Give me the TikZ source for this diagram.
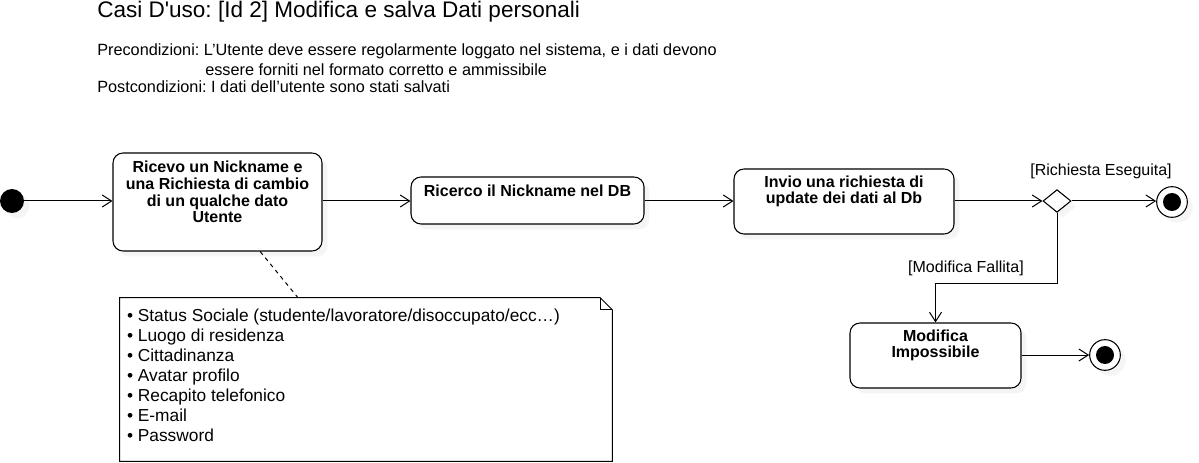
\documentclass[tikz,border=0pt]{standalone}
\usepackage{fontspec}
\setmainfont{Liberation Sans}
\frenchspacing
\usetikzlibrary{arrows.meta}
\usetikzlibrary{shapes.geometric}
\usetikzlibrary{shadows}
\usetikzlibrary{calc}

\tikzset{
  shadowed/.style={drop shadow={shadow xshift=4pt,shadow yshift=-4pt,fill=black!8}},
  act/.style={draw, rounded corners=7.5pt, line width=0.8pt, fill=white, shadowed},
  acttext/.style={font=\fontsize{12}{12.5}\selectfont\bfseries, align=center, yshift=7.5pt},
  flow/.style={line width=0.75pt, -{Straight Barb[length=7pt,width=9pt]}},
  initnode/.style={circle, fill=black, minimum size=18pt, inner sep=0, shadowed},
  finalnode/.style={circle, draw, line width=0.8pt, fill=white, minimum size=23pt, inner sep=0, shadowed,
    label={[circle, fill=black, minimum size=13.5pt, inner sep=0]center:{}}},
  decnode/.style={diamond, draw, line width=0.8pt, fill=white, minimum width=21pt, minimum height=17pt, inner sep=0, shadowed},
  guard/.style={font=\fontsize{12}{14}\selectfont},
  headtext/.style={font=\fontsize{12.2}{14}\selectfont, anchor=base west, inner sep=0}
}

\begin{document}
\begin{tikzpicture}[x=0.75pt,y=0.75pt,yscale=-1,xscale=1]
\useasboundingbox (0,0) rectangle (1199,463);

% intestazione
\node[font=\fontsize{16.9}{19}\selectfont, anchor=base west, inner sep=0] (title) at (97,18) {Casi D\textquotesingle uso: [Id 2] Modifica e salva Dati personali};
\node[headtext] (pre) at (97,56) {Precondizioni: L’Utente deve essere regolarmente loggato nel sistema, e i dati devono};
\node[headtext] (pre2) at (205,76) {essere forniti nel formato corretto e ammissibile};
\node[headtext] (post) at (97,93) {Postcondizioni: I dati dell’utente sono stati salvati};

% nodi
\node[initnode] (start) at (12,201) {};
\node[act, minimum width=156.75pt, minimum height=73.5pt,
  label={[acttext]center:{Ricevo un Nickname e\\una Richiesta di cambio\\di un qualche dato\\Utente}}] (ricevo) at (217.5,202) {};
\node[act, minimum width=174.75pt, minimum height=35.25pt,
  label={[acttext]center:{Ricerco il Nickname nel DB}}] (ricerco) at (527.5,200.5) {};
\node[act, minimum width=165pt, minimum height=48.75pt,
  label={[acttext]center:{Invio una richiesta di\\update dei dati al Db}}] (invio) at (844,201.5) {};
\node[decnode] (dec) at (1057,201) {};
\node[finalnode] (fine1) at (1172,202) {};
\node[act, minimum width=128.25pt, minimum height=48.75pt,
  label={[acttext]center:{Modifica\\Impossibile}}] (impossibile) at (935.5,355.5) {};
\node[finalnode] (fine2) at (1105,355) {};

% nota
\node[minimum width=369pt, minimum height=122.25pt, inner sep=0] (note) at (366,379.5) {};
\draw[line width=0.75pt] (note.north west) -- ($(note.north east)+(-12,0)$) -- ($(note.north east)+(0,12)$) -- (note.south east) -- (note.south west) -- cycle;
\draw[line width=0.75pt] ($(note.north east)+(-12,0)$) -- ($(note.north east)+(-12,12)$) -- ($(note.north east)+(0,12)$);
\node[anchor=north west, align=left, inner sep=0, font=\fontsize{13}{15}\selectfont] (notetext) at ($(note.north west)+(7,11)$)
  {• Status Sociale (studente/lavoratore/disoccupato/ecc…)\\• Luogo di residenza\\• Cittadinanza\\• Avatar profilo\\• Recapito telefonico\\• E-mail\\• Password};
\draw[dashed, line width=0.75pt] ($(ricevo.south west)!0.703!(ricevo.south east)$) -- ($(note.north west)!0.362!(note.north east)$);

% flusso
\draw[flow] (start) -- (ricevo.west |- start);
\draw[flow] (ricevo.east |- start) -- (ricerco.west |- start);
\draw[flow] (ricerco.east |- start) -- (invio.west |- start);
\draw[flow] (invio.east |- dec) -- (dec.west);
\draw[flow] (dec.east) -- (fine1.west |- dec);
\draw[flow] (dec.south) -- ++(0,71) -| (impossibile.north);
\draw[flow] (impossibile.east |- fine2) -- (fine2.west);

% guardie
\node[guard] (okguard) at (1101,171) {[Richiesta Eseguita]};
\node[guard] (koguard) at (966,268) {[Modifica Fallita]};

\end{tikzpicture}
\end{document}
